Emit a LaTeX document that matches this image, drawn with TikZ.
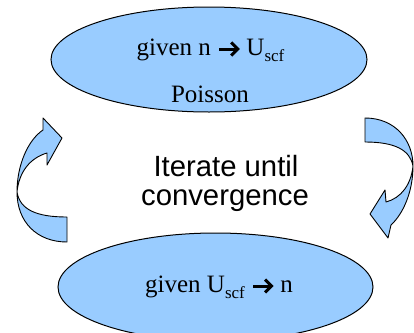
\documentclass[tikz,border=0pt]{standalone}
\usepackage{fontspec}
\setmainfont{Liberation Serif}
\setsansfont{Liberation Sans}
\usetikzlibrary{shapes.geometric}
\definecolor{lblue}{RGB}{153,204,255}
\tikzset{
  oval/.style={ellipse, draw=black, line width=1pt, fill=lblue, inner sep=0pt},
  ribbon/.style={draw=black, line width=0.9pt, fill=lblue, line join=round},
  lbl/.style={anchor=base, inner sep=0pt, font=\fontsize{25}{28}\selectfont},
  big/.style={anchor=base, inner sep=0pt, font=\sffamily\fontsize{29.3}{30}\selectfont},
  glyph/.style={draw=black, line width=3pt, line join=miter}
}
\newcommand{\myarrow}{\tikz[x=1pt,y=1pt,baseline=0pt]{\useasboundingbox (0,0) rectangle (23,13);
  \draw[glyph] (2,6) -- (20,6); \draw[glyph] (14,12.5) -- (20.5,6) -- (14,-0.5);}}
\newcommand{\scf}{\raisebox{-6pt}{\fontsize{17}{17}\selectfont scf}}
\begin{document}
\begin{tikzpicture}[x=1pt,y=-1pt]
\useasboundingbox (0,0) rectangle (414,332);
% ellipses
\node[oval, minimum width=316pt, minimum height=105pt] (top) at (209,59.5) {};
\node[oval, minimum width=315pt, minimum height=108pt] (bot) at (215.5,287) {};
% texts
\node[lbl] (t1) at (210.5,55) {given n \myarrow{} U\scf};
\node[lbl] (t2) at (210,102) {Poisson};
\node[lbl] (b1) at (219,292) {given U\scf{} \myarrow{} n};
\node[big] (c1) at (226,176) {Iterate until};
\node[big] (c2) at (225,205) {convergence};
% left curved arrow
\path[ribbon] (67,242) .. controls (37,242) and (17,222) .. (17,192)
  .. controls (17,165) and (28,140) .. (43,130)
  -- (43,118) -- (62,138) -- (47,165) -- (47,153)
  .. controls (30,158) and (19,172) .. (17,192)
  .. controls (20,210) and (37,217) .. (67,217) -- cycle;
% right curved arrow
\path[ribbon] (365,118) .. controls (395,118) and (413,140) .. (413,166)
  .. controls (413,192) and (403,214) .. (391,225)
  -- (388,238) -- (370,214) -- (385,190) -- (386,202)
  .. controls (401,198) and (411,185) .. (413,166)
  .. controls (410,150) and (395,142) .. (365,142) -- cycle;
\end{tikzpicture}
\end{document}
